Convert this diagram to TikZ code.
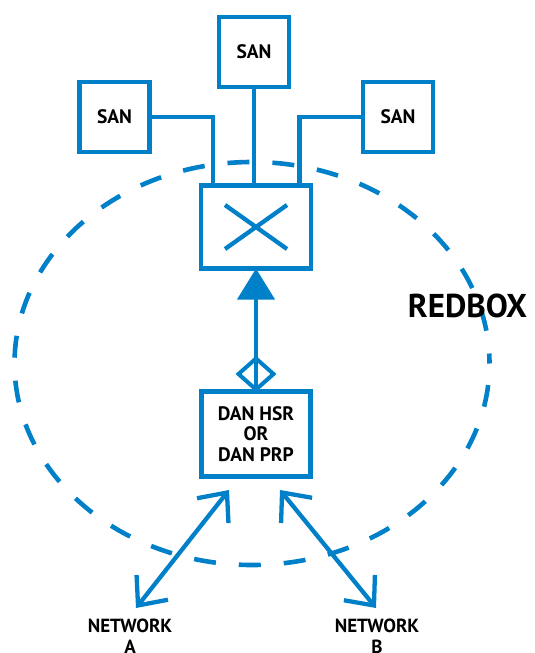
\documentclass[tikz,border=0pt]{standalone}
\usepackage{fontspec}
\setmainfont{PT Sans}
\usetikzlibrary{arrows.meta,shapes.geometric,calc}
\definecolor{rbblue}{RGB}{0,128,200}
\begin{document}
\begin{tikzpicture}[x=1pt,y=-1pt,
  box/.style={draw=rbblue, line width=4.3pt, fill=white, inner sep=0pt, outer sep=0pt,
    font=\fontsize{19.5}{20.5}\selectfont\bfseries, align=center},
  sanbox/.style={box, minimum width=70pt, minimum height=70pt},
  link/.style={draw=rbblue, line width=4.3pt},
  barb/.style={link, {Straight Barb[length=23pt,width=40pt]}-{Straight Barb[length=23pt,width=40pt]}},
  lbl/.style={font=\fontsize{19}{20.5}\selectfont\bfseries, align=center, inner sep=0pt}]
\useasboundingbox (0,0) rectangle (535,653);
% redbox boundary
\draw[rbblue, line width=4.6pt, dash pattern=on 22pt off 23pt, dash phase=12pt]
  (252,363.5) ellipse [x radius=237.5pt, y radius=201.5pt];
\node[font=\fontsize{33}{38}\selectfont\bfseries, inner sep=0pt] (red) at (467.5,306) {REDBOX};
% nodes
\node[sanbox] (sanT) at (254,52) {SAN};
\node[sanbox] (sanL) at (114.5,117) {SAN};
\node[sanbox] (sanR) at (398,117) {SAN};
\node[box, minimum width=110pt, minimum height=83pt] (sw) at (256,227) {};
\node[box, minimum width=109pt, minimum height=85pt] (dan) at (256,434) {DAN HSR\\OR\\DAN PRP};
\node[draw=rbblue, line width=4pt, diamond, minimum width=35pt, minimum height=31pt,
  inner sep=0pt, outer sep=0pt, fill=white] (dia) at (256,374) {};
% links to SANs
\draw[link] (sanL.east) -| ([xshift=12pt]sw.north west);
\draw[link] (sanR.west) -| ([xshift=-11.5pt]sw.north east);
\draw[link] (sanT.south) -- (sanT.south |- sw.north);
% switch cross
\draw[link] ([xshift=-31pt,yshift=22pt]sw.center) -- ([xshift=31pt,yshift=-22pt]sw.center);
\draw[link] ([xshift=-31pt,yshift=-22pt]sw.center) -- ([xshift=31pt,yshift=22pt]sw.center);
% DAN to switch
\draw[link, -{Triangle[length=31pt,width=37pt]}] (dan.north) -- (sw.south);
% network links
\coordinate (la) at (229,490);
\coordinate (lb) at (136,608);
\coordinate (ra) at (280,490);
\coordinate (rb) at (376,608);
\draw[barb] (la) -- (lb);
\draw[barb] (ra) -- (rb);
\node[lbl, anchor=north] (netA) at (130,619) {NETWORK\\A};
\node[lbl, anchor=north] (netB) at (377,619) {NETWORK\\B};
\end{tikzpicture}
\end{document}
